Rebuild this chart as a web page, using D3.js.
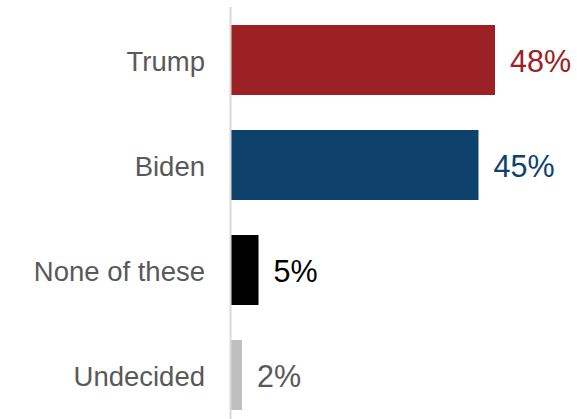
<!DOCTYPE html>
<html>
<head>
<meta charset="utf-8">
<script src="https://cdn.jsdelivr.net/npm/d3@7"></script>
<style>
  html, body { margin: 0; padding: 0; background: #ffffff; }
  svg { display: block; }
</style>
</head>
<body>
<div id="chart"></div>
<script>
// Candidate support, percent
const categories = ["Trump", "Biden", "None of these", "Undecided"];
const values = [48, 45, 5, 2];
const valueLabels = ["48%", "45%", "5%", "2%"];
const barColors = ["#9c2124", "#0f416d", "#000000", "#bfbfbf"];
const labelColors = ["#9c2124", "#0f416d", "#000000", "#595959"];

const width = 577, height = 419;
const axisX = 231;

const svg = d3.select("#chart").append("svg")
  .attr("width", width)
  .attr("height", height);

const x = d3.scaleLinear().domain([0, 48]).range([axisX, 495]);
const y = d3.scaleBand().domain(categories).range([-1.25, 436.25]).paddingInner(1 / 3).paddingOuter(0.25);

const rows = categories.map((c, i) => ({ c, v: values[i], label: valueLabels[i], bar: barColors[i], text: labelColors[i] }));

// bars
svg.selectAll("rect.bar").data(rows).enter().append("rect")
  .attr("class", "bar")
  .attr("x", x(0))
  .attr("y", d => y(d.c))
  .attr("width", d => x(d.v) - x(0))
  .attr("height", y.bandwidth())
  .attr("fill", d => d.bar);

// vertical baseline
svg.append("line")
  .attr("x1", axisX - 0.5).attr("x2", axisX - 0.5)
  .attr("y1", 7).attr("y2", height)
  .attr("stroke", "#d9d9d9")
  .attr("stroke-width", 2);

// category labels
svg.selectAll("text.cat").data(rows).enter().append("text")
  .attr("class", "cat")
  .attr("x", 205)
  .attr("y", d => y(d.c) + y.bandwidth() / 2 + 10.5)
  .attr("text-anchor", "end")
  .attr("font-family", "Liberation Sans, Arial, sans-serif")
  .attr("font-size", 27.5)
  .attr("fill", "#595959")
  .text(d => d.c);

// value labels
svg.selectAll("text.val").data(rows).enter().append("text")
  .attr("class", "val")
  .attr("x", d => x(d.v) + 15)
  .attr("y", d => y(d.c) + y.bandwidth() / 2 + 11.5)
  .attr("font-family", "Liberation Sans, Arial, sans-serif")
  .attr("font-size", 30.5)
  .attr("fill", d => d.text)
  .text(d => d.label);
</script>
</body>
</html>
